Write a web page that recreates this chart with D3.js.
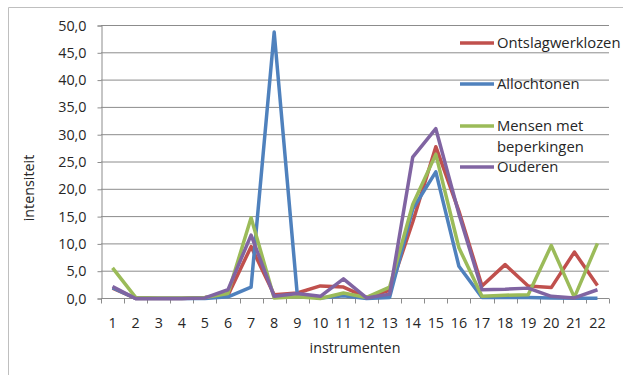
<!DOCTYPE html>
<html>
<head>
<meta charset="utf-8">
<script src="https://cdn.jsdelivr.net/npm/d3@7"></script>
<style>
  body { margin: 0; background: #fff; }
  text { font-family: "Open Sans", sans-serif; fill: #262626; }
</style>
</head>
<body>
<div id="plot"></div>
<script>
const instruments = d3.range(1, 23).map(String);
const seriesNames = ["Ontslagwerklozen", "Allochtonen", "Mensen met beperkingen", "Ouderen"];
const ontslagwerklozen = [1.9, 0, 0, 0, 0.2, 0.6, 9.5, 0.7, 1.0, 2.3, 2.1, 0.2, 1.5, 14.0, 27.8, 16.0, 2.3, 6.2, 2.3, 2.0, 8.5, 2.4];
const allochtonen = [2.0, 0, 0, 0, 0, 0.3, 2.1, 48.8, 0.7, 0.1, 0.5, 0, 0.2, 16.4, 23.2, 5.9, 0.2, 0.2, 0.2, 0.1, 0.05, 0.05];
const mensenMetBeperkingen = [5.6, 0.2, 0.1, 0.1, 0.2, 0.9, 14.8, 0.1, 0.3, 0, 1.0, 0.2, 2.1, 17.2, 26.4, 9.3, 0.4, 0.6, 0.7, 9.7, 0.2, 10.1];
const ouderen = [2.2, 0, 0, 0, 0.1, 1.6, 11.6, 0.4, 0.9, 0.4, 3.6, 0.1, 0.8, 25.9, 31.1, 15.5, 1.6, 1.7, 1.9, 0.4, 0.1, 1.6];
const yTicks = d3.range(0, 51, 5);

const values = [ontslagwerklozen, allochtonen, mensenMetBeperkingen, ouderen];
const colors = ["#c0504d", "#4f81bd", "#9bbb59", "#8064a2"];

const width = 623, height = 375;
const margin = {top: 26, right: 14, bottom: 76, left: 101};
const fs = "14.3px";

const svg = d3.select("#plot").append("svg")
  .attr("width", width)
  .attr("height", height);

// outer frame (left and top edges visible)
svg.append("path")
  .attr("d", `M8.5,${height} V7.5 H${width}`)
  .attr("fill", "none")
  .attr("stroke", "#bfbfbf");

const x = d3.scaleBand()
  .domain(instruments)
  .range([margin.left, width - margin.right]);

const y = d3.scaleLinear()
  .domain([0, 50])
  .range([height - margin.bottom - 0.5, margin.top - 0.5]);

// gridlines
svg.append("g")
  .selectAll("line")
  .data(yTicks.filter(d => d > 0))
  .join("line")
    .attr("x1", margin.left)
    .attr("x2", width - margin.right)
    .attr("y1", d => y(d))
    .attr("y2", d => y(d))
    .attr("stroke", "#8c8c8c")
    .attr("stroke-width", 1);

// y axis
const yAxis = svg.append("g")
  .attr("transform", `translate(${margin.left + 0.5},0)`)
  .call(d3.axisLeft(y).tickValues(yTicks).tickSize(4).tickPadding(11)
    .tickFormat(d => d3.format(".1f")(d).replace(".", ",")));
yAxis.select(".domain").attr("stroke", "#8c8c8c");
yAxis.selectAll(".tick line").attr("stroke", "#8c8c8c");
yAxis.selectAll("text").style("font-size", fs).attr("fill", "#262626");

// x axis with ticks at category boundaries
const xAxis = svg.append("g")
  .attr("transform", `translate(0,${y(0)})`);
xAxis.append("line")
  .attr("x1", margin.left).attr("x2", width - margin.right)
  .attr("stroke", "#8c8c8c");
xAxis.selectAll(".bt")
  .data(d3.range(instruments.length + 1))
  .join("line")
    .attr("class", "bt")
    .attr("x1", i => Math.round(margin.left + i * x.step()) + 0.5)
    .attr("x2", i => Math.round(margin.left + i * x.step()) + 0.5)
    .attr("y1", 0).attr("y2", 5)
    .attr("stroke", "#8c8c8c");
xAxis.selectAll(".lbl")
  .data(instruments)
  .join("text")
    .attr("class", "lbl")
    .attr("x", d => x(d) + x.bandwidth() / 2)
    .attr("y", 29)
    .attr("text-anchor", "middle")
    .style("font-size", fs)
    .text(d => d);

// lines
const line = d3.line()
  .x((d, i) => x(instruments[i]) + x.bandwidth() / 2)
  .y(d => y(d));

svg.append("g")
  .selectAll("path")
  .data(values)
  .join("path")
    .attr("d", d => line(d))
    .attr("fill", "none")
    .attr("stroke", (d, i) => colors[i])
    .attr("stroke-width", 3.5)
    .attr("stroke-linejoin", "round");

// axis titles
svg.append("text")
  .attr("x", 355)
  .attr("y", 353)
  .attr("text-anchor", "middle")
  .style("font-size", fs)
  .text("instrumenten");

svg.append("text")
  .attr("transform", "translate(34,188) rotate(-90)")
  .attr("text-anchor", "middle")
  .style("font-size", fs)
  .text("intensiteit");

// legend
const legendRows = [
  {lines: ["Ontslagwerklozen"], y: 43},
  {lines: ["Allochtonen"], y: 84},
  {lines: ["Mensen met", "beperkingen"], y: 126},
  {lines: ["Ouderen"], y: 167}
];
const legend = svg.append("g");
legendRows.forEach((r, i) => {
  legend.append("line")
    .attr("x1", 460).attr("x2", 494)
    .attr("y1", r.y).attr("y2", r.y)
    .attr("stroke", colors[i])
    .attr("stroke-width", 3.5);
  r.lines.forEach((t, j) => {
    legend.append("text")
      .attr("x", 497)
      .attr("y", r.y + j * 21)
      .attr("dy", "0.35em")
      .style("font-size", "14.8px")
      .text(t);
  });
});
</script>
</body>
</html>
